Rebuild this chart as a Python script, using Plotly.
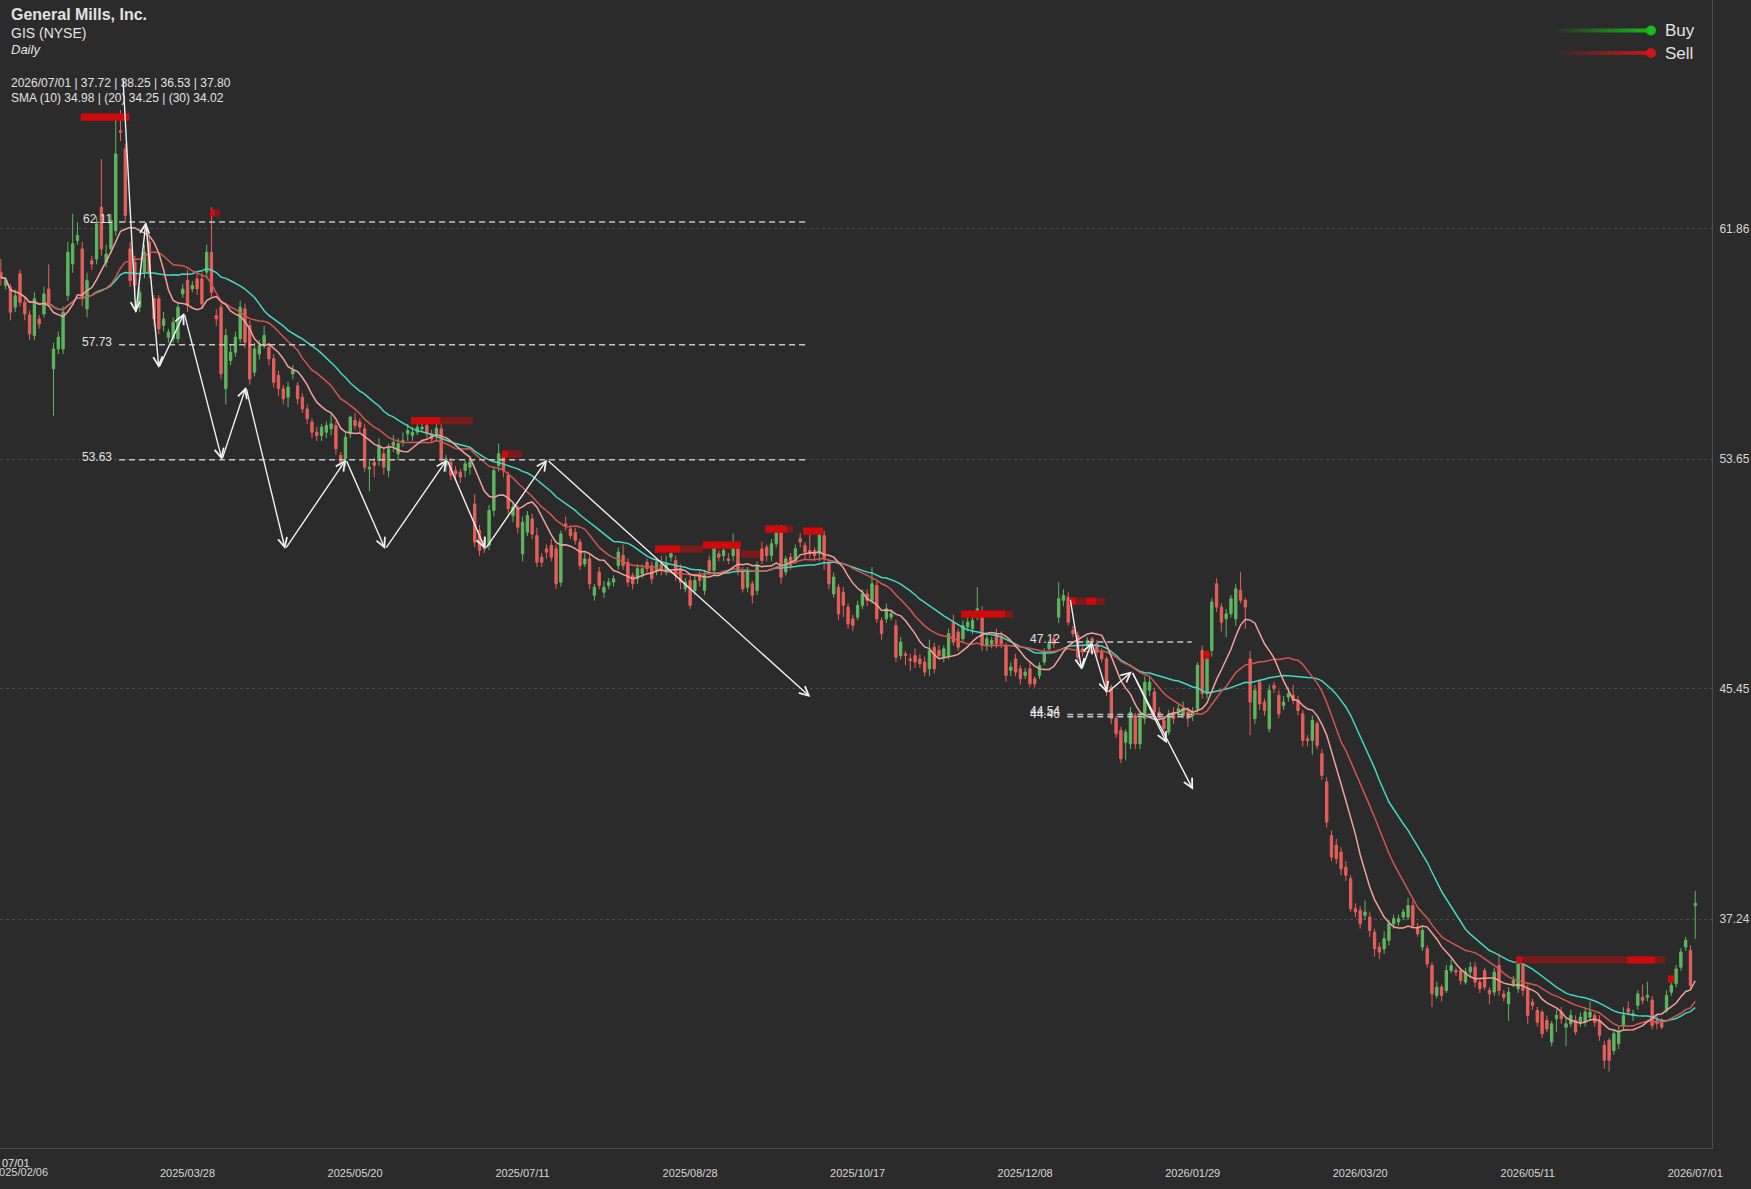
import plotly.graph_objects as go
import pandas as pd

# ---------------- data ----------------
open_ = [
60.32,59.84,59.78,59.07,60.26,59.25,58.80,58.06,58.65,58.83,
59.72,56.87,57.58,57.58,59.49,60.61,61.45,61.15,59.01,60.73,
60.79,62.64,60.67,61.15,61.80,65.37,64.72,61.15,60.67,59.07,
60.32,61.39,59.37,59.37,58.42,58.00,57.94,57.94,59.54,60.02,
59.72,60.08,60.08,60.32,61.03,58.77,59.07,56.16,57.17,57.46,
57.94,59.01,58.42,56.75,57.40,57.76,57.64,57.23,56.63,56.16,
55.86,56.69,56.27,55.86,55.44,54.97,54.61,54.49,54.61,54.73,
54.85,53.78,53.66,54.55,55.03,54.97,54.73,53.30,53.54,53.60,
53.84,53.24,54.14,53.84,54.25,54.55,54.49,54.61,54.73,54.85,
54.55,54.49,54.73,53.42,53.54,53.24,53.18,53.24,53.36,52.05,
51.10,50.75,50.57,51.82,53.42,53.78,53.07,51.64,51.88,50.27,
51.04,51.52,50.92,50.15,50.45,50.57,50.45,49.26,51.34,51.16,
51.04,50.69,49.91,50.09,48.79,49.62,48.90,49.14,49.26,49.85,
50.21,49.97,49.50,49.38,49.56,49.97,49.85,49.68,49.91,49.68,
50.15,50.03,49.74,49.02,49.32,48.96,49.50,48.96,50.03,49.68,
50.27,50.21,50.09,50.21,50.45,49.68,49.08,49.20,48.96,50.45,
50.51,50.21,50.63,51.10,49.62,50.15,50.03,50.81,50.57,50.39,
50.39,50.27,50.92,49.97,48.84,49.08,48.90,48.37,47.95,48.01,
48.43,48.84,48.61,49.14,47.89,47.95,48.01,47.71,46.64,46.70,
46.52,46.64,46.52,46.41,46.17,46.94,46.82,46.58,46.64,47.83,
47.48,47.24,47.66,47.60,48.07,48.19,47.00,47.06,47.42,47.30,
47.00,46.11,46.52,46.17,45.93,46.17,45.81,45.93,46.41,46.88,
47.24,48.01,48.61,48.72,47.54,47.36,46.88,47.00,47.24,47.06,
46.76,46.52,45.51,44.39,43.97,43.55,43.49,44.50,43.49,44.39,
45.40,45.34,44.62,44.33,43.91,44.62,44.62,44.50,44.62,44.50,
44.74,46.82,45.28,46.82,49.20,48.37,47.95,48.13,47.95,48.96,
48.61,46.52,44.39,45.69,44.98,44.03,45.57,45.22,44.86,45.16,
45.22,45.04,44.56,43.67,43.61,44.21,43.14,42.13,40.22,39.87,
39.63,39.09,38.68,37.61,37.55,37.37,37.31,36.77,36.24,36.18,
36.48,37.07,37.13,37.31,37.31,37.72,36.95,36.24,36.18,35.58,
34.51,34.81,34.69,35.40,35.40,35.40,34.99,35.35,35.52,34.99,
35.40,34.69,34.63,35.58,34.57,34.22,34.93,34.75,35.64,34.75,
34.28,33.98,33.92,33.62,32.85,33.68,33.92,33.38,33.50,33.62,
33.56,33.56,33.74,33.80,33.62,32.73,32.91,32.55,32.79,33.44,
34.04,33.80,34.16,34.45,34.45,34.34,33.62,33.56,33.98,34.63,
34.93,35.52,36.24,36.12,37.72]

high_ = [
60.79,60.15,59.90,59.70,60.40,59.40,58.95,59.60,58.80,59.80,
60.60,57.80,58.20,59.10,61.40,62.40,62.10,61.40,60.30,60.90,
62.30,64.36,61.30,62.40,65.79,66.10,64.90,61.40,60.90,59.80,
61.30,61.60,59.50,59.50,58.90,58.30,58.70,59.20,59.90,60.40,
60.00,60.30,60.30,61.30,62.64,59.00,59.20,58.30,57.70,58.20,
59.30,59.20,58.60,57.80,57.90,58.40,57.80,57.40,56.80,56.30,
56.40,57.00,56.40,56.00,55.60,55.10,54.80,54.90,55.00,55.30,
55.00,53.90,54.60,55.20,55.30,55.10,54.90,53.60,53.70,54.40,
54.00,54.20,54.50,54.40,54.60,54.90,54.80,55.00,55.00,55.00,
54.70,54.90,55.15,53.80,53.70,53.40,53.30,53.60,53.70,52.40,
51.30,50.90,52.00,53.40,54.20,53.90,53.20,52.10,52.00,51.60,
51.80,51.70,51.20,50.30,50.60,50.80,50.60,51.10,51.60,51.30,
51.20,50.80,50.30,50.30,49.20,49.80,49.30,49.40,49.50,50.50,
50.60,50.10,49.60,49.90,49.90,50.10,50.00,50.10,50.20,50.20,
50.40,50.20,49.90,49.40,49.50,49.50,49.70,49.70,50.20,50.70,
50.40,50.50,50.30,51.00,50.60,49.80,49.80,49.30,50.00,50.70,
50.60,50.80,51.30,51.30,50.20,50.30,50.60,51.00,50.70,51.00,
50.50,51.10,51.10,50.10,49.60,49.20,49.10,48.50,48.10,48.60,
49.00,49.00,49.80,49.30,48.00,48.50,48.30,47.90,47.30,46.80,
46.70,46.90,46.70,46.60,47.20,47.10,47.00,47.00,47.60,48.10,
47.60,47.90,48.00,48.10,49.08,48.40,47.40,47.30,47.60,47.50,
47.10,46.40,46.70,46.30,46.20,46.40,45.90,46.40,46.90,47.20,
47.40,49.26,49.00,48.90,47.70,47.50,47.00,47.30,47.30,47.20,
46.90,46.60,45.60,44.50,44.10,44.00,44.80,44.60,44.60,45.90,
45.90,45.50,44.80,44.50,44.70,44.80,44.90,45.00,44.80,44.80,
46.40,47.00,46.80,48.70,49.40,48.50,48.30,48.80,49.20,49.62,
48.70,46.80,45.60,45.80,45.10,45.60,45.70,45.40,45.20,45.50,
45.60,45.20,44.70,43.80,44.50,44.30,43.30,42.30,40.40,40.10,
39.80,39.30,38.80,37.80,37.70,37.90,37.50,36.90,36.40,36.80,
37.20,37.40,37.40,37.60,38.00,37.90,37.10,36.95,36.30,35.70,
35.00,34.90,35.60,35.80,35.50,35.50,35.50,35.70,35.70,35.10,
35.50,34.80,35.50,36.00,34.70,34.80,35.20,35.80,35.80,34.90,
34.40,34.10,34.00,33.80,33.60,34.00,34.10,33.70,34.00,33.80,
33.90,34.10,34.30,33.90,33.80,32.90,33.00,33.30,33.40,34.10,
34.30,34.00,34.70,34.90,35.00,34.50,33.80,33.70,34.70,35.00,
35.60,36.20,36.60,36.30,38.25]

low_ = [
59.84,59.70,58.60,58.90,59.10,58.60,57.90,57.90,58.30,58.70,
59.10,55.20,57.40,57.40,59.30,60.30,61.30,59.10,58.70,60.40,
60.60,60.90,60.50,61.00,61.60,65.00,62.10,59.80,59.60,58.90,
60.10,60.10,58.40,58.10,58.20,57.80,57.80,57.80,59.40,58.90,
59.60,59.50,59.00,60.10,59.40,58.40,56.50,55.60,57.00,57.30,
57.80,57.60,56.30,56.60,57.20,57.60,57.00,56.20,55.90,55.60,
55.50,56.50,55.60,55.30,54.90,54.40,54.30,54.30,54.40,54.50,
53.80,53.30,53.40,54.40,54.70,54.60,53.20,52.50,53.00,53.40,
53.10,53.00,53.90,53.60,54.10,54.30,54.30,54.50,54.60,54.40,
54.20,54.30,53.50,53.20,52.90,52.90,52.80,53.00,53.10,50.50,
50.20,50.30,50.40,51.60,53.20,53.00,51.70,51.40,51.00,50.00,
50.90,50.80,49.80,49.80,50.10,50.00,49.00,49.10,51.10,50.80,
50.60,49.70,49.80,49.00,48.60,49.00,48.70,49.00,49.10,49.70,
49.70,49.10,49.00,49.20,49.40,49.60,49.20,49.50,49.50,49.50,
50.00,49.30,49.00,48.90,48.30,48.80,49.10,48.80,49.50,49.50,
50.00,50.00,49.90,50.00,49.50,48.90,48.90,48.50,48.80,49.90,
50.00,50.00,50.50,49.20,49.50,49.70,49.90,50.50,50.10,50.10,
50.00,50.00,49.70,49.00,48.70,47.90,48.00,47.60,47.50,47.90,
48.30,48.40,48.50,47.80,47.20,47.80,47.90,46.40,46.50,46.30,
46.10,46.20,46.20,45.90,45.90,46.00,46.50,46.40,46.50,47.00,
46.80,47.10,47.50,47.40,47.90,46.80,46.80,46.90,46.90,46.90,
45.70,45.90,45.90,45.60,45.80,45.50,45.50,45.80,46.30,46.80,
46.90,47.80,48.40,47.70,47.30,46.40,46.60,46.90,47.00,46.60,
46.40,45.20,44.20,43.70,42.80,42.90,43.30,43.30,43.30,44.20,
45.20,44.50,44.30,43.90,43.80,44.20,44.50,44.40,44.10,44.30,
44.60,45.10,45.10,46.60,48.20,47.50,47.30,48.00,47.70,48.50,
47.60,43.80,44.20,44.70,44.50,43.90,45.30,44.40,44.70,45.00,
44.90,44.50,43.40,43.40,43.10,43.30,42.20,40.50,39.30,39.20,
38.80,38.60,37.50,37.30,36.90,37.20,36.60,35.90,35.80,36.00,
36.30,36.90,37.00,37.20,37.20,36.90,36.60,36.10,35.50,34.10,
34.40,34.30,34.60,35.30,35.20,34.90,34.90,35.20,34.80,34.60,
34.70,34.20,34.50,34.50,34.30,33.60,34.80,34.60,34.50,33.50,
34.00,33.40,33.00,33.20,32.70,33.20,33.50,32.70,33.40,33.10,
33.40,33.40,33.60,33.40,32.90,31.90,31.80,32.40,32.60,33.30,
33.80,33.60,34.00,34.20,34.30,33.30,33.30,33.30,33.90,34.50,
34.80,35.40,36.10,34.70,36.53]

close_ = [
60.14,60.02,58.89,59.48,59.25,58.83,58.12,59.37,58.47,59.54,
59.25,57.58,58.00,58.89,61.03,61.33,61.63,59.37,60.02,60.61,
62.04,61.15,60.97,62.16,64.54,65.31,62.34,60.02,59.84,59.60,
61.03,60.32,58.65,58.30,58.65,58.18,58.53,59.07,59.72,59.13,
59.84,59.72,59.19,61.03,59.60,58.65,56.69,58.06,57.46,58.00,
59.07,57.82,56.51,57.58,57.70,58.06,57.23,56.39,56.16,55.80,
56.22,56.81,55.80,55.44,55.09,54.61,54.49,54.79,54.85,54.91,
54.02,53.54,54.43,55.15,54.85,54.79,53.36,53.36,53.42,54.14,
53.36,54.02,54.25,54.20,54.31,54.67,54.61,54.79,54.79,54.55,
54.37,54.75,53.66,53.66,53.07,53.12,53.01,53.48,53.54,50.69,
50.39,50.45,51.82,53.24,53.84,53.24,51.88,51.94,51.22,51.40,
51.64,50.98,49.97,49.97,50.33,50.15,49.20,50.98,51.28,50.92,
50.75,49.85,50.09,49.20,49.08,49.14,49.08,49.26,49.38,50.33,
49.85,49.26,49.20,49.74,49.74,49.74,49.38,49.97,49.68,49.91,
50.27,49.50,49.26,49.26,48.43,49.32,49.32,49.50,49.68,50.51,
50.15,50.39,50.03,50.51,49.68,49.02,49.68,48.79,49.85,50.03,
50.21,50.63,51.10,49.44,50.09,49.85,50.45,50.69,50.33,50.27,
50.21,50.99,50.09,49.20,49.44,48.13,48.43,47.77,47.71,48.43,
48.84,48.61,49.20,47.95,47.42,48.31,48.13,46.58,47.12,46.64,
46.47,46.41,46.35,46.05,46.82,46.17,46.64,46.88,47.42,47.12,
46.94,47.71,47.83,47.89,48.31,47.00,47.24,47.18,47.06,47.06,
45.93,46.23,46.05,45.81,46.05,45.63,45.63,46.29,46.76,47.06,
47.06,48.67,48.78,47.83,47.42,46.58,46.76,47.18,47.12,46.76,
46.52,45.34,44.39,43.85,42.96,43.91,44.62,43.49,44.39,45.69,
45.69,44.62,44.50,44.03,44.50,44.39,44.74,44.74,44.39,44.62,
46.29,45.28,46.52,48.55,48.37,47.83,48.13,48.67,49.02,48.61,
48.37,44.98,45.40,44.92,44.68,45.40,45.46,44.56,44.98,45.28,
45.04,44.68,43.61,43.61,44.33,43.43,42.36,40.70,39.45,39.39,
39.03,38.80,37.61,37.49,37.07,37.49,36.83,36.18,36.06,36.54,
37.07,37.25,37.25,37.49,37.72,37.01,36.71,36.83,35.64,34.57,
34.81,34.51,35.40,35.58,35.35,35.05,35.35,35.52,34.99,34.75,
34.81,34.57,35.35,34.69,34.45,34.63,35.05,35.64,34.69,33.80,
34.16,33.56,33.15,33.32,33.50,33.80,33.68,33.50,33.80,33.21,
33.74,33.92,33.92,33.56,33.09,32.20,32.20,33.15,33.21,33.80,
33.92,33.86,34.57,34.34,34.51,33.44,33.50,33.38,34.51,34.87,
35.46,36.06,36.48,34.87,37.80]

tick_idx = [4, 39, 74, 109, 144, 179, 214, 249, 284, 319, 354]
tick_labels = ["2025/02/06", "2025/03/28", "2025/05/20", "2025/07/11", "2025/08/28",
               "2025/10/17", "2025/12/08", "2026/01/29", "2026/03/20", "2026/05/11", "2026/07/01"]
price_ticks = [37.24, 45.45, 53.65, 61.86]
price_tick_labels = ["37.24", "45.45", "53.65", "61.86"]

# support / resistance levels
level_price = [62.11, 57.73, 53.63, 47.12, 44.54, 44.46]
level_x0 = [24.7, 24.7, 24.7, 222.8, 222.8, 222.8]
level_x1 = [168.2, 168.2, 168.2, 248.8, 248.8, 248.8]

# zigzag patterns (bar position, price)
zz1_x = [25.5, 28.2, 30.3, 33.0, 38.3, 46.2, 51.2, 59.4, 72.1, 80.3, 93.2, 101.2, 114.1, 169.1]
zz1_y = [67.28, 58.86, 62.11, 56.90, 58.86, 53.63, 56.22, 50.44, 53.63, 50.44, 53.63, 50.44, 53.63, 45.16]
zz2_x = [223.4, 225.8, 227.9, 231.1, 236.3, 243.6]
zz2_y = [48.68, 46.13, 47.12, 45.30, 46.07, 43.51]
zz2_proj_x = [236.3, 249.1]
zz2_proj_y = [46.07, 41.85]

# sell-signal zones: start bar, end bar, price, strong(1)/faded(0)
sell_x0 = [16.7, 43.7, 44.8, 85.7, 91.8, 104.7, 106.0, 136.7, 141.9, 146.7, 154.6, 159.7, 164.3,
           167.6, 200.6, 209.8, 223.2, 224.7, 226.8, 228.8, 251.2, 316.6, 317.8, 339.8, 345.6, 348.3]
sell_x1 = [26.8, 44.8, 45.8, 91.8, 98.6, 106.0, 108.9, 141.9, 146.7, 154.6, 158.6, 164.3, 165.5,
           171.8, 209.8, 211.5, 224.7, 226.8, 228.8, 230.7, 252.6, 317.8, 339.8, 345.6, 347.7, 349.6]
sell_price = [65.85, 62.43, 62.43, 55.02, 55.02, 53.83, 53.83, 50.44, 50.44, 50.58, 50.26, 51.15, 51.15,
              51.08, 48.12, 48.12, 48.58, 48.58, 48.58, 48.58, 46.66, 35.78, 35.78, 35.78, 35.78, 35.10]
sell_strong = [1, 1, 0, 1, 0, 1, 0, 1, 0, 1, 0, 1, 0,
               1, 1, 0, 1, 0, 1, 0, 1, 1, 0, 1, 0, 1]

# ---------------- styles ----------------
BG = "#2b2b2b"
GREEN = "#5fb560"
RED = "#e45f5b"
TXT = "#e2e2e2"
TICK = "#d6d6d6"
FONT = "Liberation Sans, Arial, Helvetica, sans-serif"
PW, PH = 1712, 1148   # plot area in px
Y0, Y1 = 29.07, 70.03
X0, X1 = -0.18, 357.5


def px(x):
    return x / PW


def py(y):
    return 1 - y / PH


bars = list(range(len(close_)))
closes = pd.Series(close_)
sma10 = closes.rolling(10, min_periods=1).mean()
sma20 = closes.rolling(20, min_periods=1).mean()
sma30 = closes.rolling(30, min_periods=1).mean()

fig = go.Figure()
fig.add_trace(go.Candlestick(
    x=bars, open=open_, high=high_, low=low_, close=close_,
    increasing=dict(line=dict(color=GREEN, width=1), fillcolor=GREEN),
    decreasing=dict(line=dict(color=RED, width=1), fillcolor=RED),
    whiskerwidth=0, hoverinfo="skip", showlegend=False))
for s, col in [(sma30, "#42d8c2"), (sma20, "#d0564f"), (sma10, "#f2a19a")]:
    fig.add_trace(go.Scatter(x=bars, y=s, mode="lines", line=dict(color=col, width=1.5),
                             hoverinfo="skip", showlegend=False))

shapes = []
annotations = []

# sell zones
for a, b, p, st in zip(sell_x0, sell_x1, sell_price, sell_strong):
    shapes.append(dict(type="rect", xref="x", yref="y", x0=a, x1=b, y0=p - 0.13, y1=p + 0.13,
                       line=dict(width=0), fillcolor="#d00a0a" if st else "#7a1b1b", layer="above"))

# level lines + labels
for p, a, b in zip(level_price, level_x0, level_x1):
    shapes.append(dict(type="line", xref="x", yref="y", x0=a, x1=b, y0=p, y1=p,
                       line=dict(color="#c4c4c4", width=1.5, dash="6px,4px"), layer="above"))
    annotations.append(dict(x=a, y=p, xref="x", yref="y", text=f"{p:.2f}", showarrow=False,
                            xanchor="right", yanchor="middle", xshift=-5, yshift=3,
                            font=dict(family=FONT, size=12, color=TXT)))

# zigzag arrows
def arrows(xs, ys):
    for i in range(len(xs) - 1):
        annotations.append(dict(x=xs[i + 1], y=ys[i + 1], ax=xs[i], ay=ys[i],
                                xref="x", yref="y", axref="x", ayref="y", text="",
                                showarrow=True, arrowhead=5, arrowsize=1.3, arrowwidth=1.4,
                                arrowcolor="#f0f0f0", standoff=0))

arrows(zz1_x, zz1_y)
arrows(zz2_x, zz2_y)
arrows(zz2_proj_x, zz2_proj_y)

# header
hdr = [("<b>General Mills, Inc.</b>", 14, 16), ("GIS (NYSE)", 33, 14), ("<i>Daily</i>", 49, 13),
       ("2026/07/01 | 37.72 | 38.25 | 36.53 | 37.80", 83, 12),
       ("SMA (10) 34.98 | (20) 34.25 | (30) 34.02", 98, 12)]
for t, yy, sz in hdr:
    annotations.append(dict(x=px(9), y=py(yy), xref="paper", yref="paper", text=t, showarrow=False,
                            xanchor="left", yanchor="middle", font=dict(family=FONT, size=sz, color=TXT)))

# legend (Buy / Sell with fading lines)
for name, col, yy in [("Buy", (25, 185, 25), 30.5), ("Sell", (205, 22, 22), 53.0)]:
    n = 30
    xa, xb = 1553.0, 1650.0
    for i in range(n):
        op = (i + 1) / n
        shapes.append(dict(type="line", xref="paper", yref="paper",
                           x0=px(xa + (xb - xa) * i / n), x1=px(xa + (xb - xa) * (i + 1) / n),
                           y0=py(yy), y1=py(yy),
                           line=dict(color=f"rgba({col[0]},{col[1]},{col[2]},{op:.3f})", width=4)))
    shapes.append(dict(type="circle", xref="paper", yref="paper",
                       x0=px(1646), x1=px(1656), y0=py(yy + 5), y1=py(yy - 5),
                       fillcolor=f"rgb({col[0]},{col[1]},{col[2]})", line=dict(width=0)))
    annotations.append(dict(x=px(1663), y=py(yy), xref="paper", yref="paper", text=name,
                            showarrow=False, xanchor="left", yanchor="middle",
                            font=dict(family=FONT, size=17, color=TXT)))

# first date label sits half outside the page (clipped like in the reference)
annotations.append(dict(x=tick_idx[0], y=py(1172), xref="x", yref="paper", text=tick_labels[0],
                        showarrow=False, xanchor="center", yanchor="middle",
                        font=dict(family=FONT, size=11, color=TICK)))
annotations.append(dict(x=0, y=py(1163), xref="paper", yref="paper", text="07/01", showarrow=False,
                        xanchor="left", yanchor="middle", font=dict(family=FONT, size=11, color=TXT)))

fig.update_layout(
    width=1751, height=1189,
    margin=dict(l=0, r=1751 - PW, t=0, b=1189 - PH, pad=0, autoexpand=False),
    paper_bgcolor=BG, plot_bgcolor=BG,
    showlegend=False,
    shapes=shapes, annotations=annotations,
    xaxis=dict(range=[X0, X1], tickmode="array", tickvals=tick_idx[1:], ticktext=tick_labels[1:],
               showgrid=False, zeroline=False, showline=True, linecolor="#4c4c4c", linewidth=1,
               mirror=True, ticks="", ticklabelstandoff=15, automargin=False,
               tickfont=dict(family=FONT, size=11, color=TICK),
               rangeslider=dict(visible=False), fixedrange=True),
    yaxis=dict(range=[Y0, Y1], side="right", tickmode="array", tickvals=price_ticks,
               ticktext=price_tick_labels, showgrid=True, gridcolor="#4a4a4a", griddash="dot",
               gridwidth=1, zeroline=False, showline=True, linecolor="#4c4c4c", linewidth=1,
               mirror=True, ticks="", ticklabelstandoff=4, automargin=False,
               tickfont=dict(family=FONT, size=12, color=TICK), fixedrange=True),
)

fig.write_html("out.html")
